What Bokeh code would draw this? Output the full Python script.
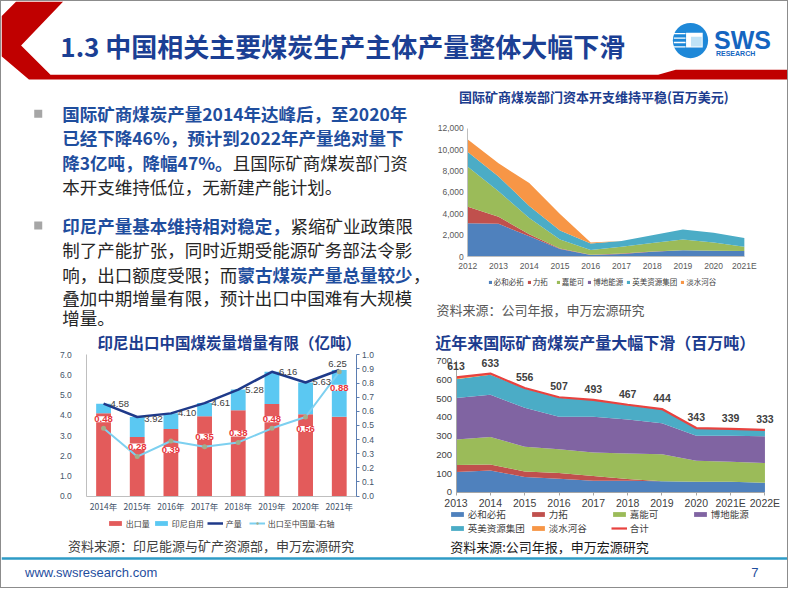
from bokeh.plotting import figure
from bokeh.models import (Range1d, LinearAxis, FixedTicker, ColumnDataSource, Label, LabelSet,
                          Legend, LegendItem, NumeralTickFormatter, PrintfTickFormatter)
from bokeh.layouts import column, row
from bokeh.core.properties import value
from bokeh.embed import file_html
from bokeh.resources import INLINE

# ---------------------------------------------------------------- data
capex_years = ["2012", "2013", "2014", "2015", "2016", "2017", "2018", "2019", "2020", "2021E"]
capex_bhp = [3120, 3060, 1900, 700, 150, 250, 450, 600, 550, 520]
capex_rio = [1530, 670, 180, 60, 30, 50, 30, 0, 0, 0]
capex_glencore = [3750, 2370, 1520, 830, 430, 620, 800, 990, 760, 400]
capex_peabody = [0, 0, 0, 0, 0, 0, 0, 0, 0, 0]
capex_anglo = [1390, 1390, 1140, 860, 610, 550, 710, 950, 920, 820]
capex_vale = [1160, 1230, 2140, 1530, 90, 0, 0, 0, 0, 0]
capex_ticks = [0, 2000, 4000, 6000, 8000, 10000, 12000]

indo_years = ["2014年", "2015年", "2016年", "2017年", "2018年", "2019年", "2020年", "2021年"]
indo_export = [4.10, 2.93, 3.32, 3.96, 4.25, 4.57, 4.06, 3.93]
indo_domestic = [0.48, 0.99, 0.78, 0.65, 1.03, 1.59, 1.57, 2.32]
indo_output = [4.58, 3.92, 4.10, 4.61, 5.28, 6.16, 5.63, 6.25]
indo_to_china = [0.48, 0.28, 0.39, 0.35, 0.38, 0.48, 0.56, 0.88]
indo_left_ticks = [0, 1, 2, 3, 4, 5, 6, 7]
indo_right_ticks = [0.0, 0.1, 0.2, 0.3, 0.4, 0.5, 0.6, 0.7, 0.8, 0.9, 1.0]

prod_years = ["2013", "2014", "2015", "2016", "2017", "2018", "2019", "2020", "2021E", "2022E"]
prod_bhp = [109, 117, 83, 73, 62, 62, 60, 57, 57, 52]
prod_rio = [38, 32, 29, 31, 26, 10, 0, 0, 0, 0]
prod_glencore = [135, 146, 132, 126, 125, 135, 144, 112, 107, 105]
prod_peabody = [221, 225, 207, 173, 190, 182, 164, 133, 138, 142]
prod_anglo = [100, 107, 103, 102, 88, 76, 74, 40, 36, 33]
prod_vale = [10, 6, 2, 2, 2, 2, 2, 1, 1, 1]
prod_total = [613, 633, 556, 507, 493, 467, 444, 343, 339, 333]
prod_ticks = [0, 100, 200, 300, 400, 500, 600, 700]

company_names = ["必和必拓", "力拓", "嘉能可", "博地能源", "英美资源集团", "淡水河谷"]

# ---------------------------------------------------------------- styles / helpers
CJK = "Noto Sans CJK SC"
LAT = "Liberation Sans"
TITLE_BLUE = "#1C3C8E"
CO_COLORS = ["#4F81BD", "#C0504D", "#9BBB59", "#8064A2", "#4BACC6", "#F79646"]

W, H = 786, 586
SX, SY = W / 802, H / 602


def lx(x):
    return int(round(x * SX))


def ly(y):
    return int(round(y * SY))


HEAD_B, MID_B, BOT_B, SPLIT = 85, 338, 570, 440


def base_fig(fx0, fy0, fx1, fy1, x_range, y_range, **kw):
    p = figure(width=lx(fx1) - lx(fx0), height=ly(fy1) - ly(fy0),
               x_range=x_range, y_range=y_range, toolbar_location=None,
               output_backend="svg", outline_line_color=None, frame_align=False, **kw)
    p.min_border_left = p.min_border_right = p.min_border_top = p.min_border_bottom = 0
    p.background_fill_color = "white"
    p.border_fill_color = "white"
    return p


def blank(x0, x1, y0, y1):
    return base_fig(x0, y0, x1, y1, Range1d(x0, x1), Range1d(y1, y0),
                    x_axis_type=None, y_axis_type=None)


def extend(lo_d, hi_d, lo_px, hi_px, out_lo_px, out_hi_px):
    """data range [lo_d, hi_d] spans ref px [lo_px, hi_px]; extend to [out_lo_px, out_hi_px]"""
    k = (hi_d - lo_d) / (hi_px - lo_px)
    return Range1d(lo_d - (lo_px - out_lo_px) * k, hi_d + (out_hi_px - hi_px) * k)


def chart(fig_box, frame_box, xr, yr):
    fx0, fy0, fx1, fy1 = fig_box
    gx0, gy0, gx1, gy1 = frame_box
    xrng = extend(xr[0], xr[1], gx0, gx1, fx0, fx1)
    yrng = extend(yr[0], yr[1], -gy1, -gy0, -fy1, -fy0)
    p = base_fig(fx0, fy0, fx1, fy1, xrng, yrng)
    p.grid.visible = False
    p.xaxis.fixed_location = yr[0]
    p.yaxis.fixed_location = xr[0]
    p.xaxis.bounds = tuple(xr)
    p.yaxis.bounds = tuple(yr)

    def to_data(x, y):
        dx = xr[0] + (x - gx0) / (gx1 - gx0) * (xr[1] - xr[0])
        dy = yr[0] + (gy1 - y) / (gy1 - gy0) * (yr[1] - yr[0])
        return dx, dy

    def to_screen(x, y):
        return (x - fx0) * SX, (fy1 - y) * SY
    return p, to_data, to_screen


def style_axis(ax, size, color="#595959", line="#BFBFBF", font=LAT, standoff=4):
    ax.major_label_text_font_size = size
    ax.major_label_text_color = color
    ax.major_label_text_font = font
    ax.axis_line_color = line
    ax.major_tick_line_color = None
    ax.minor_tick_line_color = None
    ax.major_tick_out = 0
    ax.major_tick_in = 0
    ax.minor_tick_out = 0
    ax.minor_tick_in = 0
    ax.major_label_standoff = standoff


def add_label(p, to_data, x, y, text, size, color, bold=False, align="left"):
    dx, dy = to_data(x, y)
    p.add_layout(Label(x=dx, y=dy, text=text, text_font=CJK, text_font_size=size,
                       text_color=color, text_font_style="bold" if bold else "normal",
                       text_align=align, text_baseline="middle"))


def make_legend(items, loc, **kw):
    opts = dict(orientation="horizontal", location=loc, label_text_font=CJK,
                label_text_color="#404040", padding=0, margin=0,
                border_line_alpha=0, background_fill_alpha=0)
    opts.update(kw)
    return Legend(items=items, **opts)


# ---------------------------------------------------------------- header
ph = blank(0, 802, 0, HEAD_B)
ph.patch([15, 63, 20, 50, 670, 688, 802, 802, 28, 0, 0],
         [0, 0, 45, 75, 75, 70, 70, 80, 80, 56, 15],
         fill_color="#C00000", line_color=None)
ph.text(x=[60], y=[45], text=["1.3 中国相关主要煤炭生产主体产量整体大幅下滑"],
        text_font=value(CJK), text_font_size="26px", text_font_style="bold",
        text_color="#1B3F94", text_baseline="middle")
ph.circle(x=[703], y=[40], radius=18, fill_color="#1E88D8", line_color=None)
ph.rect(x=[707], y=[39.5], width=17, height=15, fill_color="white", line_color=None)
ph.rect(x=[709], y=[41], width=11, height=10, fill_color="#BFE3F7", line_color=None)
ph.multi_line(xs=[[686, 698]] * 4, ys=[[33, 33], [37.5, 37.5], [42, 42], [46.5, 46.5]],
              line_color="white", line_width=1.3)
ph.text(x=[727], y=[39], text=["SWS"], text_font=value(LAT), text_font_style="bold",
        text_font_size="25px", text_color="#1565C0", text_baseline="middle")
ph.text(x=[729], y=[53], text=["RESEARCH"], text_font=value(LAT), text_font_style="bold",
        text_font_size="7px", text_color="#1565C0", text_baseline="middle")

# ---------------------------------------------------------------- text block
pt = blank(0, SPLIT, HEAD_B, MID_B)
pt.scatter(x=[37.5, 37.5], y=[115, 230], marker="square", size=8,
           fill_color="#A6A6A6", line_color=None)
BLUE_TXT = "#1F4E9E"
DARK_TXT = "#262626"
bold_segs = [
    (62, 115, "国际矿商煤炭产量2014年达峰后，至2020年"),
    (62, 140, "已经下降46%，预计到2022年产量绝对量下"),
    (62, 165, "降3亿吨，降幅47%。"),
    (62, 230, "印尼产量基本维持相对稳定，"),
    (241, 280, "蒙古煤炭产量总量较少"),
]
norm_segs = [
    (236, 165, "且国际矿商煤炭部门资"),
    (62, 190, "本开支维持低位，无新建产能计划。"),
    (295, 230, "紧缩矿业政策限"),
    (62, 255, "制了产能扩张，同时近期受能源矿务部法令影"),
    (62, 280, "响，出口额度受限；而"),
    (420, 280, "，"),
    (62, 304, "叠加中期增量有限，预计出口中国难有大规模"),
    (62, 325, "增量。"),
]
pt.text(x=[s[0] for s in bold_segs], y=[s[1] for s in bold_segs], text=[s[2] for s in bold_segs],
        text_font=value(CJK), text_font_size="17.5px", text_font_style="bold",
        text_color=BLUE_TXT, text_baseline="middle")
pt.text(x=[s[0] for s in norm_segs], y=[s[1] for s in norm_segs], text=[s[2] for s in norm_segs],
        text_font=value(CJK), text_font_size="17.5px", text_color=DARK_TXT, text_baseline="middle")

# ---------------------------------------------------------------- chart 1: capex
p1, d1, s1 = chart((SPLIT, HEAD_B, 802, MID_B), (476, 130, 758, 262), (0, 9), (0, 12000))
src1 = ColumnDataSource(dict(x=list(range(len(capex_years))), bhp=capex_bhp, rio=capex_rio,
                             glencore=capex_glencore, peabody=capex_peabody,
                             anglo=capex_anglo, vale=capex_vale))
rs1 = p1.varea_stack(["bhp", "rio", "glencore", "peabody", "anglo", "vale"], x="x",
                     color=CO_COLORS, source=src1)
p1.xaxis.ticker = FixedTicker(ticks=list(range(len(capex_years))))
p1.xaxis.major_label_overrides = {i: s for i, s in enumerate(capex_years)}
p1.yaxis.ticker = FixedTicker(ticks=capex_ticks)
p1.yaxis.formatter = NumeralTickFormatter(format="0,0")
style_axis(p1.xaxis[0], "8.5px", standoff=4)
style_axis(p1.yaxis[0], "8.5px", standoff=4)
p1.add_layout(make_legend([LegendItem(label=value(n), renderers=[r]) for n, r in zip(company_names, rs1)],
                          s1(497, 294), label_text_font_size="7.5px", glyph_width=4, glyph_height=4,
                          label_standoff=2, spacing=3, label_height=9))
add_label(p1, d1, 604.5, 97, "国际矿商煤炭部门资本开支维持平稳(百万美元)", "13px", TITLE_BLUE,
          bold=True, align="center")
add_label(p1, d1, 444, 316, "资料来源：公司年报，申万宏源研究", "13px", "#595959")

# ---------------------------------------------------------------- chart 2: Indonesia
FB2, FR2 = (0, MID_B, SPLIT, BOT_B), (87, 363, 362, 508)
p2, d2, s2 = chart(FB2, FR2, (-0.5, 7.5), (0, 7))
src2 = ColumnDataSource(dict(
    x=list(range(len(indo_years))), export=indo_export, domestic=indo_domestic,
    output=indo_output, china=indo_to_china,
    out_lbl=["%.2f" % v for v in indo_output], chn_lbl=["%.2f" % v for v in indo_to_china],
    odx=[7, 7, 7, 7, 7, 7, 7, -11], ody=[0, -2, 0, 0, 0, 0, 0, 6],
    cdy=[9, 10, -9, 10, 9, 9, -12, -16]))
p2.extra_y_ranges = {"r": extend(0, 1, -FR2[3], -FR2[1], -FB2[3], -FB2[1])}
bars = p2.vbar_stack(["export", "domestic"], x="x", width=0.44,
                     fill_color=["#E35B5B", "#5BC8F2"], line_color=None, source=src2)
ln_out = p2.line("x", "output", line_color="#1F3A8A", line_width=2.5, source=src2)
ln_chn = p2.line("x", "china", line_color="#7DD0F0", line_width=2, y_range_name="r", source=src2)
mk_chn = p2.scatter("x", "china", marker="circle", size=5, fill_color="#A3AE8C", line_color=None,
                    y_range_name="r", source=src2)
right_ax = LinearAxis(y_range_name="r", ticker=FixedTicker(ticks=indo_right_ticks),
                      formatter=PrintfTickFormatter(format="%.1f"), fixed_location=7.5,
                      bounds=(0, 1))
p2.add_layout(right_ax, "right")
p2.xaxis.ticker = FixedTicker(ticks=list(range(len(indo_years))))
p2.xaxis.major_label_overrides = {i: s for i, s in enumerate(indo_years)}
p2.yaxis[0].ticker = FixedTicker(ticks=indo_left_ticks)
p2.yaxis[0].formatter = PrintfTickFormatter(format="%.1f")
style_axis(p2.xaxis[0], "8.5px", "#44546A", "#BFBFBF", CJK, 4)
style_axis(p2.yaxis[0], "8.5px", "#44546A", "#BFBFBF", LAT, 15)
style_axis(right_ax, "8.5px", "#44546A", "#5B7DB1", LAT, 3)
right_ax.major_tick_line_color = "#5B7DB1"
right_ax.major_tick_out = 3
p2.add_layout(LabelSet(x="x", y="output", text="out_lbl", x_offset="odx", y_offset="ody",
                       source=src2, text_font=value(LAT), text_font_size="9.5px",
                       text_color="#404040", text_baseline="middle", text_align="left"))
p2.add_layout(LabelSet(x="x", y="china", y_range_name="r", text="chn_lbl", y_offset="cdy",
                       source=src2, text_font=value(LAT), text_font_size="9.5px",
                       text_font_style="bold", text_color="#E8343A", text_baseline="middle",
                       text_align="center", background_fill_color="white"))
p2.add_layout(make_legend([LegendItem(label=value("出口量"), renderers=[bars[0]]),
                           LegendItem(label=value("印尼自用"), renderers=[bars[1]]),
                           LegendItem(label=value("产量"), renderers=[ln_out]),
                           LegendItem(label=value("出口至中国量-右轴"), renderers=[ln_chn, mk_chn])],
                          s2(108, 542), label_text_font_size="8px", glyph_width=16, glyph_height=6,
                          label_standoff=3, spacing=3, label_height=10))
add_label(p2, d2, 232.5, 350, "印尼出口中国煤炭量增量有限（亿吨）", "15.5px", TITLE_BLUE,
          bold=True, align="center")
add_label(p2, d2, 68, 559, "资料来源：印尼能源与矿产资源部，申万宏源研究", "13px", "#404040")

# ---------------------------------------------------------------- chart 3: production
p3, d3, s3 = chart((SPLIT, MID_B, 802, BOT_B), (464, 369.3, 779, 504.3), (0, 9), (0, 700))
src3 = ColumnDataSource(dict(x=list(range(len(prod_years))), bhp=prod_bhp, rio=prod_rio,
                             glencore=prod_glencore, peabody=prod_peabody, anglo=prod_anglo,
                             vale=prod_vale, total=prod_total,
                             tot_lbl=[str(v) for v in prod_total]))
rs3 = p3.varea_stack(["bhp", "rio", "glencore", "peabody", "anglo", "vale"], x="x",
                     color=CO_COLORS, source=src3)
ln_tot = p3.line("x", "total", line_color="#E8423F", line_width=2.2, source=src3)
p3.xaxis.ticker = FixedTicker(ticks=list(range(len(prod_years))))
p3.xaxis.major_label_overrides = {i: s for i, s in enumerate(prod_years)}
p3.yaxis.ticker = FixedTicker(ticks=prod_ticks)
style_axis(p3.xaxis[0], "10.5px", "#404040", "#A6A6A6", LAT, 2)
style_axis(p3.yaxis[0], "9.5px", "#404040", "#A6A6A6", LAT, 4)
p3.xaxis.major_tick_line_color = "#A6A6A6"
p3.xaxis.major_tick_out = 3
p3.add_layout(LabelSet(x="x", y="total", text="tot_lbl", y_offset=7, source=src3,
                       text_font=value(LAT), text_font_size="10.5px", text_font_style="bold",
                       text_color="#404040", text_align="center", text_baseline="bottom"))
p3.add_layout(make_legend([LegendItem(label=value(n), renderers=[r]) for n, r in zip(company_names, rs3)]
                          + [LegendItem(label=value("合计"), renderers=[ln_tot])],
                          s3(457, 548), ncols=4, label_text_font_size="9.5px", glyph_width=16,
                          glyph_height=6, label_standoff=3, label_width=62, spacing=0,
                          label_height=10))
add_label(p3, d3, 606, 350, "近年来国际矿商煤炭产量大幅下滑（百万吨）", "16px", TITLE_BLUE,
          bold=True, align="center")
add_label(p3, d3, 458, 560, "资料来源:公司年报，申万宏源研究", "13px", "#1A1A1A")

# ---------------------------------------------------------------- footer
pf = blank(0, 802, BOT_B, 602)
pf.line(x=[0, 802], y=[572, 572], line_color="#2E9BC6", line_width=2.5)
pf.text(x=[24], y=[586], text=["www.swsresearch.com"], text_font=value(LAT),
        text_font_size="13px", text_color="#1F4E9E", text_baseline="middle")
pf.text(x=[765], y=[586], text=["7"], text_font=value(LAT),
        text_font_size="13px", text_color="#1F4E9E", text_baseline="middle")

page = column(ph, row(pt, p1), row(p2, p3), pf, styles={"border": "1px solid #8C8C8C"})

with open("out.html", "w") as f:
    f.write(file_html(page, INLINE))
